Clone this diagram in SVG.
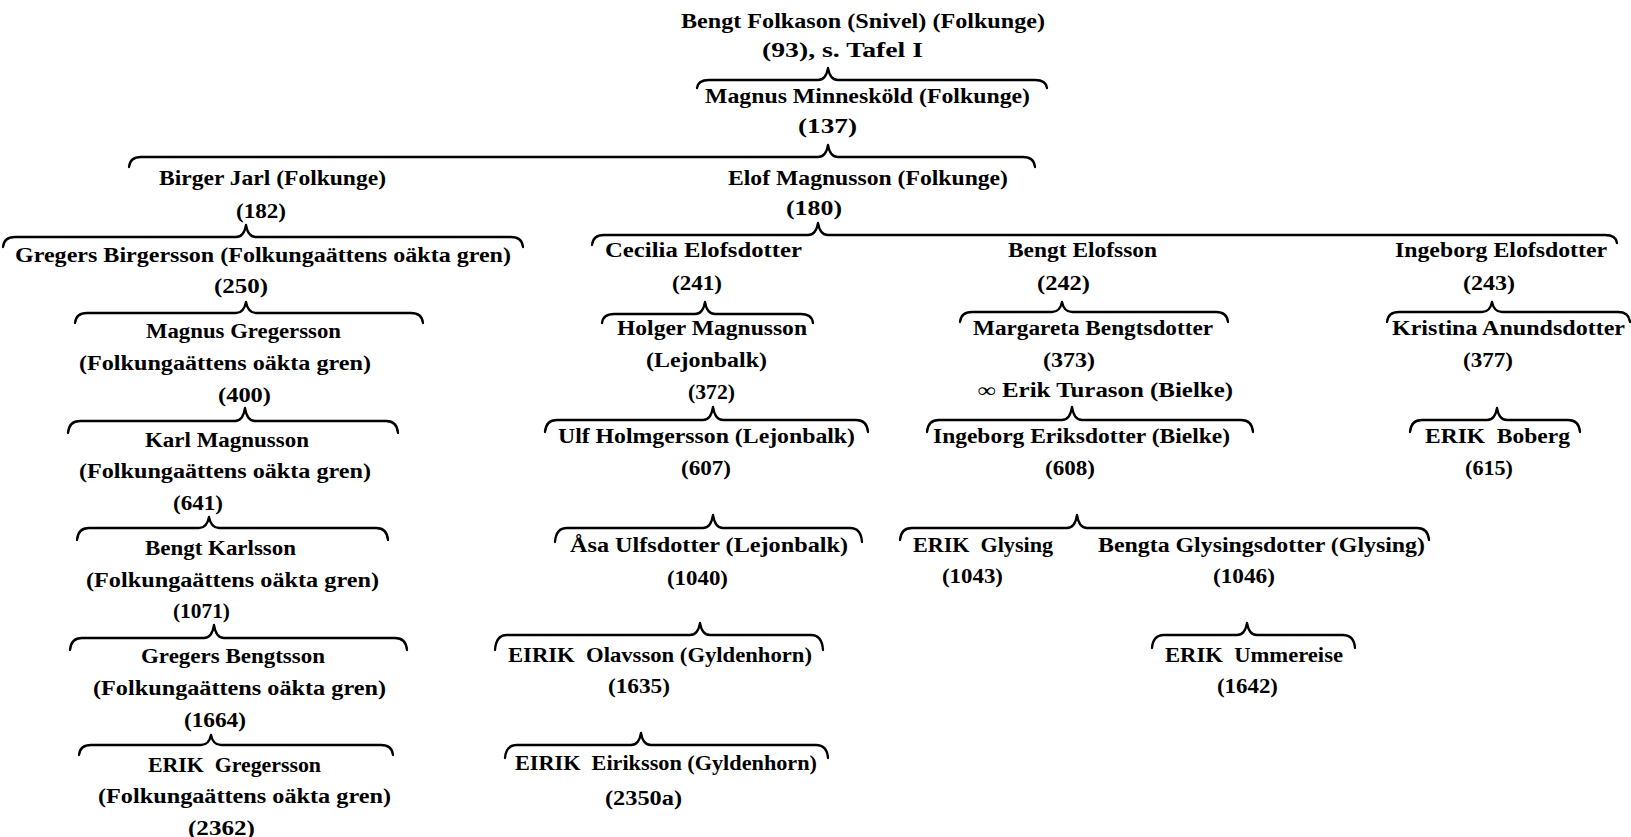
<svg xmlns="http://www.w3.org/2000/svg" width="1631" height="837" viewBox="0 0 1631 837">
<style>
text{font-family:"Liberation Serif","DejaVu Serif",serif;font-size:20px;font-weight:bold;fill:#000;white-space:pre}
.br{fill:none;stroke:#000;stroke-width:2.3;stroke-linecap:round;stroke-linejoin:round}
</style>
<rect width="1631" height="837" fill="#fff"/>
<g id="connectors">
<path class="br" d="M697 88 Q698 80 709 80 L818 80 Q826 80 828 68 Q830 80 838 80 L1035 80 Q1046 80 1047 88"/>
<path class="br" d="M129 167 Q130 157 141 157 L818 157 Q826 157 828 145 Q830 157 838 157 L1023 157 Q1034 157 1035 167"/>
<path class="br" d="M3 247 Q4 237 15 237 L236 237 Q244 237 246 225 Q248 237 256 237 L511 237 Q522 237 523 247"/>
<path class="br" d="M592 245 Q593 235 604 235 L808 235 Q816 235 818 223 Q820 235 828 235 L1605 235 Q1616 235 1617 243"/>
<path class="br" d="M75 323 Q76 313 87 313 L236 313 Q244 313 246 302 Q248 313 256 313 L411 313 Q422 313 423 323"/>
<path class="br" d="M68 433 Q69 421 80 421 L235 421 Q243 421 245 408 Q247 421 255 421 L386 421 Q397 421 398 433"/>
<path class="br" d="M77 540 Q78 528 89 528 L199 528 Q207 528 209 517 Q211 528 219 528 L376 528 Q387 528 388 540"/>
<path class="br" d="M70 650 Q71 638 82 638 L204 638 Q212 638 214 625 Q216 638 224 638 L395 638 Q406 638 407 650"/>
<path class="br" d="M79 755 Q80 745 91 745 L201 745 Q209 745 211 735 Q213 745 221 745 L381 745 Q392 745 393 755"/>
<path class="br" d="M602 323 Q603 314 614 314 L695 314 Q703 314 705 302 Q707 314 715 314 L801 314 Q812 314 813 323"/>
<path class="br" d="M545 432 Q546 420 557 420 L703 420 Q711 420 713 407 Q715 420 723 420 L856 420 Q867 420 868 432"/>
<path class="br" d="M555 542 Q556 528 567 528 L703 528 Q711 528 713 515 Q715 528 723 528 L850 528 Q861 528 862 542"/>
<path class="br" d="M495 650 Q496 635 507 635 L690 635 Q698 635 700 623 Q702 635 710 635 L811 635 Q822 635 823 650"/>
<path class="br" d="M505 758 Q506 745 517 745 L631 745 Q639 745 641 733 Q643 745 651 745 L816 745 Q827 745 828 758"/>
<path class="br" d="M960 322 Q961 312 972 312 L1052 312 Q1060 312 1062 302 Q1064 312 1072 312 L1216 312 Q1227 312 1228 322"/>
<path class="br" d="M927 432 Q928 420 939 420 L1062 420 Q1070 420 1072 407 Q1074 420 1082 420 L1241 420 Q1252 420 1253 432"/>
<path class="br" d="M900 540 Q901 528 912 528 L1067 528 Q1075 528 1077 515 Q1079 528 1087 528 L1417 528 Q1428 528 1429 540"/>
<path class="br" d="M1152 648 Q1153 635 1164 635 L1237 635 Q1245 635 1247 623 Q1249 635 1257 635 L1343 635 Q1354 635 1355 648"/>
<path class="br" d="M1387 322 Q1388 312 1399 312 L1482 312 Q1490 312 1492 302 Q1494 312 1502 312 L1618 312 Q1629 312 1630 322"/>
<path class="br" d="M1410 432 Q1411 420 1422 420 L1487 420 Q1495 420 1497 408 Q1499 420 1507 420 L1568 420 Q1579 420 1580 432"/>
</g>
<g id="n93"><text x="681" y="28" textLength="364" lengthAdjust="spacingAndGlyphs">Bengt Folkason (Snivel) (Folkunge)</text><text x="762" y="57" textLength="161" lengthAdjust="spacingAndGlyphs">(93), s. Tafel I</text></g>
<g id="n137"><text x="705" y="103" textLength="325" lengthAdjust="spacingAndGlyphs">Magnus Minnesköld (Folkunge)</text><text x="798" y="133" textLength="59" lengthAdjust="spacingAndGlyphs">(137)</text></g>
<g id="n182"><text x="159" y="185" textLength="227" lengthAdjust="spacingAndGlyphs">Birger Jarl (Folkunge)</text><text x="236" y="218" textLength="50" lengthAdjust="spacingAndGlyphs">(182)</text></g>
<g id="n180"><text x="728" y="185" textLength="280" lengthAdjust="spacingAndGlyphs">Elof Magnusson (Folkunge)</text><text x="786" y="215" textLength="56" lengthAdjust="spacingAndGlyphs">(180)</text></g>
<g id="n250"><text x="15" y="262" textLength="496" lengthAdjust="spacingAndGlyphs">Gregers Birgersson (Folkungaättens oäkta gren)</text><text x="214" y="293" textLength="54" lengthAdjust="spacingAndGlyphs">(250)</text></g>
<g id="n400"><text x="146" y="338" textLength="195" lengthAdjust="spacingAndGlyphs">Magnus Gregersson</text><text x="79" y="370" textLength="292" lengthAdjust="spacingAndGlyphs">(Folkungaättens oäkta gren)</text><text x="218" y="402" textLength="53" lengthAdjust="spacingAndGlyphs">(400)</text></g>
<g id="n641"><text x="145" y="447" textLength="164" lengthAdjust="spacingAndGlyphs">Karl Magnusson</text><text x="79" y="478" textLength="292" lengthAdjust="spacingAndGlyphs">(Folkungaättens oäkta gren)</text><text x="173" y="510" textLength="50" lengthAdjust="spacingAndGlyphs">(641)</text></g>
<g id="n1071"><text x="145" y="555" textLength="151" lengthAdjust="spacingAndGlyphs">Bengt Karlsson</text><text x="86" y="587" textLength="293" lengthAdjust="spacingAndGlyphs">(Folkungaättens oäkta gren)</text><text x="173" y="618" textLength="57" lengthAdjust="spacingAndGlyphs">(1071)</text></g>
<g id="n1664"><text x="141" y="663" textLength="184" lengthAdjust="spacingAndGlyphs">Gregers Bengtsson</text><text x="93" y="695" textLength="293" lengthAdjust="spacingAndGlyphs">(Folkungaättens oäkta gren)</text><text x="184" y="727" textLength="62" lengthAdjust="spacingAndGlyphs">(1664)</text></g>
<g id="n2362"><text x="148" y="772" textLength="173" lengthAdjust="spacingAndGlyphs">ERIK  Gregersson</text><text x="98" y="803" textLength="293" lengthAdjust="spacingAndGlyphs">(Folkungaättens oäkta gren)</text><text x="188" y="835" textLength="67" lengthAdjust="spacingAndGlyphs">(2362)</text></g>
<g id="n241"><text x="605" y="257" textLength="197" lengthAdjust="spacingAndGlyphs">Cecilia Elofsdotter</text><text x="672" y="290" textLength="50" lengthAdjust="spacingAndGlyphs">(241)</text></g>
<g id="n242"><text x="1008" y="257" textLength="149" lengthAdjust="spacingAndGlyphs">Bengt Elofsson</text><text x="1037" y="290" textLength="53" lengthAdjust="spacingAndGlyphs">(242)</text></g>
<g id="n243"><text x="1395" y="257" textLength="212" lengthAdjust="spacingAndGlyphs">Ingeborg Elofsdotter</text><text x="1463" y="290" textLength="52" lengthAdjust="spacingAndGlyphs">(243)</text></g>
<g id="n372"><text x="617" y="335" textLength="190" lengthAdjust="spacingAndGlyphs">Holger Magnusson</text><text x="646" y="367" textLength="121" lengthAdjust="spacingAndGlyphs">(Lejonbalk)</text><text x="688" y="399" textLength="47" lengthAdjust="spacingAndGlyphs">(372)</text></g>
<g id="n373"><text x="973" y="335" textLength="240" lengthAdjust="spacingAndGlyphs">Margareta Bengtsdotter</text><text x="1043" y="367" textLength="52" lengthAdjust="spacingAndGlyphs">(373)</text><text x="978" y="397" textLength="255" lengthAdjust="spacingAndGlyphs">∞ Erik Turason (Bielke)</text></g>
<g id="n377"><text x="1392" y="335" textLength="233" lengthAdjust="spacingAndGlyphs">Kristina Anundsdotter</text><text x="1463" y="367" textLength="50" lengthAdjust="spacingAndGlyphs">(377)</text></g>
<g id="n607"><text x="558" y="443" textLength="297" lengthAdjust="spacingAndGlyphs">Ulf Holmgersson (Lejonbalk)</text><text x="681" y="475" textLength="50" lengthAdjust="spacingAndGlyphs">(607)</text></g>
<g id="n608"><text x="933" y="443" textLength="297" lengthAdjust="spacingAndGlyphs">Ingeborg Eriksdotter (Bielke)</text><text x="1045" y="475" textLength="50" lengthAdjust="spacingAndGlyphs">(608)</text></g>
<g id="n615"><text x="1425" y="443" textLength="145" lengthAdjust="spacingAndGlyphs">ERIK  Boberg</text><text x="1465" y="475" textLength="48" lengthAdjust="spacingAndGlyphs">(615)</text></g>
<g id="n1040"><text x="570" y="552" textLength="278" lengthAdjust="spacingAndGlyphs">Åsa Ulfsdotter (Lejonbalk)</text><text x="667" y="585" textLength="61" lengthAdjust="spacingAndGlyphs">(1040)</text></g>
<g id="n1043"><text x="913" y="552" textLength="140" lengthAdjust="spacingAndGlyphs">ERIK  Glysing</text><text x="942" y="583" textLength="61" lengthAdjust="spacingAndGlyphs">(1043)</text></g>
<g id="n1046"><text x="1098" y="552" textLength="327" lengthAdjust="spacingAndGlyphs">Bengta Glysingsdotter (Glysing)</text><text x="1213" y="583" textLength="62" lengthAdjust="spacingAndGlyphs">(1046)</text></g>
<g id="n1635"><text x="508" y="662" textLength="304" lengthAdjust="spacingAndGlyphs">EIRIK  Olavsson (Gyldenhorn)</text><text x="608" y="693" textLength="62" lengthAdjust="spacingAndGlyphs">(1635)</text></g>
<g id="n1642"><text x="1165" y="662" textLength="178" lengthAdjust="spacingAndGlyphs">ERIK  Ummereise</text><text x="1217" y="693" textLength="61" lengthAdjust="spacingAndGlyphs">(1642)</text></g>
<g id="n2350a"><text x="515" y="770" textLength="302" lengthAdjust="spacingAndGlyphs">EIRIK  Eiriksson (Gyldenhorn)</text><text x="605" y="805" textLength="77" lengthAdjust="spacingAndGlyphs">(2350a)</text></g>
</svg>
